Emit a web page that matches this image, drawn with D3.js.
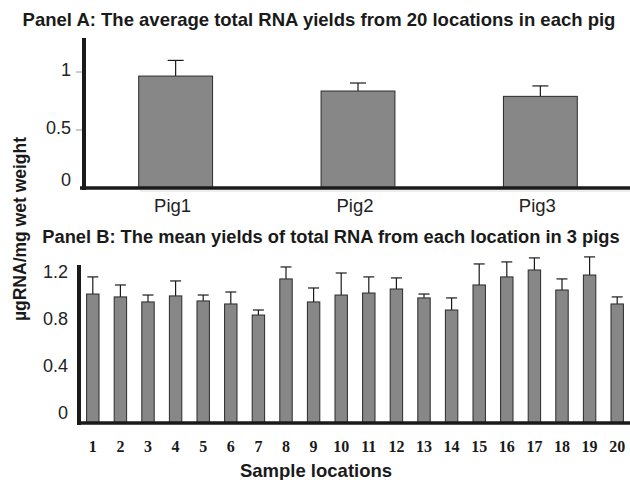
<!DOCTYPE html>
<html>
<head>
<meta charset="utf-8">
<script src="https://cdn.jsdelivr.net/npm/d3@7"></script>
<style>
  body { margin: 0; background: #fff; }
  svg { display: block; }
  .title { font-family: "Liberation Sans", Arial, sans-serif; font-weight: bold; fill: #1a1a1a; }
  .tick-label { font-family: "Liberation Sans", Arial, sans-serif; font-size: 18px; fill: #222; }
  .loc-label { font-family: "Liberation Serif", "Times New Roman", serif; font-weight: bold; font-size: 16px; fill: #1a1a1a; }
</style>
</head>
<body>
<div id="chart"></div>
<script>
// Panel A data
var pigs = ["Pig1", "Pig2", "Pig3"];
var pig_means = [0.965, 0.836, 0.79];
var pig_upper = [1.10, 0.905, 0.88];
var a_ticks = [0, 0.5, 1];

// Panel B data
var locations = ["1", "2", "3", "4", "5", "6", "7", "8", "9", "10",
  "11", "12", "13", "14", "15", "16", "17", "18", "19", "20"];
var loc_means = [1.025, 1.002, 0.962, 1.010, 0.970, 0.946, 0.858, 1.145, 0.962, 1.017,
  1.033, 1.065, 0.994, 0.898, 1.097, 1.161, 1.216, 1.057, 1.176, 0.946];
var loc_upper = [1.161, 1.097, 1.017, 1.129, 1.017, 1.041, 0.898, 1.240, 1.073, 1.192,
  1.161, 1.153, 1.025, 0.994, 1.264, 1.280, 1.312, 1.145, 1.320, 1.002];
var b_ticks = [0, 0.4, 0.8, 1.2];

var width = 630, height = 480;
var bar_fill = "#878787", bar_stroke = "#2a2a2a", axis_col = "#1a1a1a";

var svg = d3.select("#chart").append("svg")
  .attr("width", width)
  .attr("height", height);

// Titles
svg.append("text").attr("class", "title")
  .attr("x", 319).attr("y", 26)
  .attr("text-anchor", "middle").style("font-size", "18.5px")
  .text("Panel A: The average total RNA yields from 20 locations in each pig");

svg.append("text").attr("class", "title")
  .attr("x", 331).attr("y", 243)
  .attr("text-anchor", "middle").style("font-size", "18.3px")
  .text("Panel B: The mean yields of total RNA from each location in 3 pigs");

// faint scan line between panels
svg.append("line")
  .attr("x1", 140).attr("x2", 630).attr("y1", 191).attr("y2", 191)
  .attr("stroke", "#dcdcdc").attr("stroke-width", 1);

// ---------------- Panel A ----------------
var ax = d3.scaleBand().domain(pigs).range([84, 632]).paddingInner(0.595).paddingOuter(0.3);
var ay = d3.scaleLinear().domain([0, 1]).range([188, 72]);

var ga = svg.append("g");

ga.selectAll(".a-err")
  .data(pigs)
  .enter()
  .append("line")
  .attr("x1", (d) => ax(d) + ax.bandwidth() / 2)
  .attr("x2", (d) => ax(d) + ax.bandwidth() / 2)
  .attr("y1", (d, i) => ay(pig_means[i]))
  .attr("y2", (d, i) => ay(pig_upper[i]))
  .attr("stroke", axis_col).attr("stroke-width", 1.2);

ga.selectAll(".a-cap")
  .data(pigs)
  .enter()
  .append("line")
  .attr("x1", (d) => ax(d) + ax.bandwidth() / 2 - 8)
  .attr("x2", (d) => ax(d) + ax.bandwidth() / 2 + 8)
  .attr("y1", (d, i) => ay(pig_upper[i]))
  .attr("y2", (d, i) => ay(pig_upper[i]))
  .attr("stroke", axis_col).attr("stroke-width", 1.2);

ga.selectAll(".a-bar")
  .data(pigs)
  .enter()
  .append("rect")
  .attr("x", (d) => ax(d))
  .attr("y", (d, i) => ay(pig_means[i]))
  .attr("width", ax.bandwidth())
  .attr("height", (d, i) => ay(0) - ay(pig_means[i]))
  .attr("fill", bar_fill)
  .attr("stroke", bar_stroke).attr("stroke-width", 1);

// y tick marks and labels
ga.selectAll(".a-tick")
  .data(a_ticks.filter((d) => d > 0))
  .enter()
  .append("line")
  .attr("x1", 76).attr("x2", 82)
  .attr("y1", (d) => ay(d)).attr("y2", (d) => ay(d))
  .attr("stroke", "#999").attr("stroke-width", 1);

ga.selectAll(".a-lab")
  .data(a_ticks)
  .enter()
  .append("text")
  .attr("class", "tick-label")
  .attr("x", 71)
  .attr("y", (d) => ay(d) - (d === 0 ? 8 : 2))
  .attr("dy", "0.35em")
  .attr("text-anchor", "end")
  .text((d) => d3.format("")(d));

ga.selectAll(".a-xlab")
  .data(pigs)
  .enter()
  .append("text")
  .attr("class", "tick-label")
  .style("font-size", "18.5px")
  .attr("x", (d) => ax(d) + ax.bandwidth() / 2 - 3)
  .attr("y", 212)
  .attr("text-anchor", "middle")
  .text((d) => d);

// axes
ga.append("line")
  .attr("x1", 84).attr("x2", 84).attr("y1", 38).attr("y2", 190)
  .attr("stroke", axis_col).attr("stroke-width", 4);
ga.append("line")
  .attr("x1", 80).attr("x2", 630).attr("y1", ay(0)).attr("y2", ay(0))
  .attr("stroke", axis_col).attr("stroke-width", 3.5);

// ---------------- Panel B ----------------
var bx = d3.scaleBand().domain(locations).range([79, 631]).paddingInner(0.55).paddingOuter(0.275);
var by = d3.scaleLinear().domain([0, 1.2]).range([423, 272]);

var gb = svg.append("g");

gb.selectAll(".b-err")
  .data(locations)
  .enter()
  .append("line")
  .attr("x1", (d) => bx(d) + bx.bandwidth() / 2)
  .attr("x2", (d) => bx(d) + bx.bandwidth() / 2)
  .attr("y1", (d, i) => by(loc_means[i]))
  .attr("y2", (d, i) => by(loc_upper[i]))
  .attr("stroke", axis_col).attr("stroke-width", 1.2);

gb.selectAll(".b-cap")
  .data(locations)
  .enter()
  .append("line")
  .attr("x1", (d) => bx(d) + bx.bandwidth() / 2 - 5.5)
  .attr("x2", (d) => bx(d) + bx.bandwidth() / 2 + 5.5)
  .attr("y1", (d, i) => by(loc_upper[i]))
  .attr("y2", (d, i) => by(loc_upper[i]))
  .attr("stroke", axis_col).attr("stroke-width", 1.2);

gb.selectAll(".b-bar")
  .data(locations)
  .enter()
  .append("rect")
  .attr("x", (d) => bx(d))
  .attr("y", (d, i) => by(loc_means[i]))
  .attr("width", bx.bandwidth())
  .attr("height", (d, i) => by(0) - by(loc_means[i]))
  .attr("fill", bar_fill)
  .attr("stroke", bar_stroke).attr("stroke-width", 1);

gb.selectAll(".b-lab")
  .data(b_ticks)
  .enter()
  .append("text")
  .attr("class", "tick-label")
  .attr("x", 68)
  .attr("y", (d) => by(d) - 10 + d * 8)
  .attr("dy", "0.35em")
  .attr("text-anchor", "end")
  .text((d) => d3.format("")(d));

gb.selectAll(".b-xlab")
  .data(locations)
  .enter()
  .append("text")
  .attr("class", "loc-label")
  .attr("x", (d) => bx(d) + bx.bandwidth() / 2)
  .attr("y", 452)
  .attr("text-anchor", "middle")
  .text((d) => d);

gb.append("line")
  .attr("x1", 79).attr("x2", 79).attr("y1", 265).attr("y2", 425)
  .attr("stroke", axis_col).attr("stroke-width", 4);
gb.append("line")
  .attr("x1", 77).attr("x2", 630).attr("y1", by(0)).attr("y2", by(0))
  .attr("stroke", axis_col).attr("stroke-width", 3.5);

// axis titles
svg.append("text").attr("class", "title")
  .attr("x", 316).attr("y", 477)
  .attr("text-anchor", "middle").style("font-size", "18.5px")
  .text("Sample locations");

svg.append("text").attr("class", "title")
  .attr("transform", "translate(26,229) rotate(-90)")
  .attr("text-anchor", "middle").style("font-size", "17.5px")
  .text("\u00b5gRNA/mg wet weight");
</script>
</body>
</html>
